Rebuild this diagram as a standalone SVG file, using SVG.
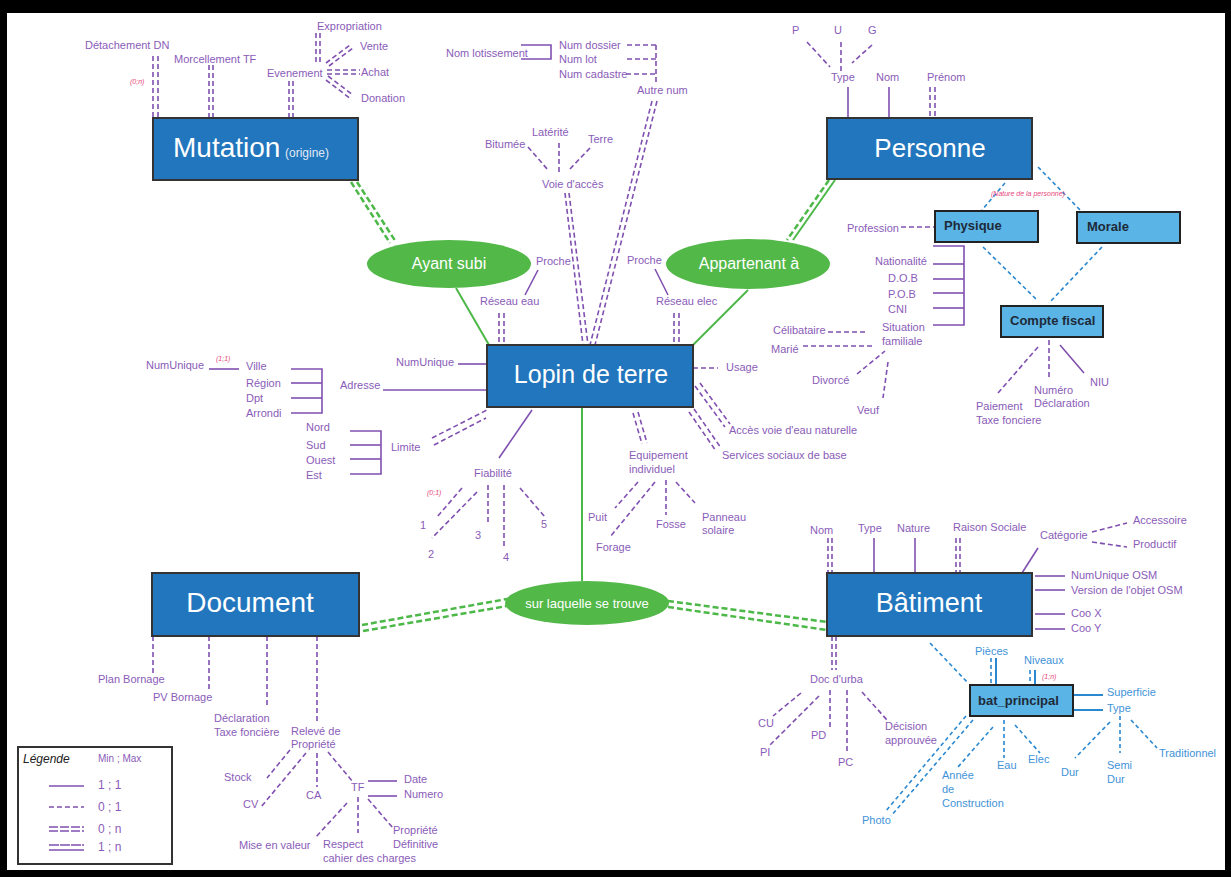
<svg xmlns="http://www.w3.org/2000/svg" width="1231" height="877" viewBox="0 0 1231 877">
<style>
text{font-family:"Liberation Sans",Arial,sans-serif}
.t{font-size:11px;fill:#8a5cb8}
.tb{font-size:11px;fill:#3f93d8}
.pk{font-size:7px;fill:#e8467c;font-style:italic}
.big{font-size:27px;fill:#fff;text-anchor:middle}
.ent{fill:#2176bd;stroke:#333;stroke-width:2}
.sub{fill:#5ab4e6;stroke:#222;stroke-width:2}
.subt{font-size:13px;font-weight:bold;fill:#1e2a38}
.ell{fill:#52b848}
.ellt{font-size:16px;fill:#fff;text-anchor:middle}
.s{stroke:#8050b0;stroke-width:1.6;fill:none}
.d{stroke:#8050b0;stroke-width:1.6;stroke-dasharray:5 3;fill:none}
.gs{stroke:#4cb848;stroke-width:2;fill:none}
.gd{stroke:#4cb848;stroke-width:2.5;stroke-dasharray:6 3;fill:none}
.bd{stroke:#2a88d0;stroke-width:1.6;stroke-dasharray:4 3;fill:none}
.bs{stroke:#2a88d0;stroke-width:2;fill:none}
</style>
<rect x="0" y="0" width="1231" height="877" fill="#000"/>
<rect x="7" y="13" width="1218" height="857" fill="#fff"/>

<g id="connectors">
<!-- green relations -->
<line class="gd" x1="351" y1="182" x2="390" y2="243"/>
<line class="gd" x1="357" y1="182" x2="396" y2="242"/>
<line class="gs" x1="456" y1="288" x2="489" y2="345"/>
<line class="gs" x1="835" y1="180" x2="793" y2="240"/>
<line class="gd" x1="829" y1="180" x2="787" y2="240"/>
<line class="gs" x1="748" y1="290" x2="693" y2="345"/>
<line class="gs" x1="582" y1="407" x2="582" y2="581"/>
<line class="gd" x1="362" y1="625" x2="507" y2="599"/>
<line class="gd" x1="363" y1="631" x2="507" y2="606"/>
<line class="gd" x1="668" y1="601" x2="827" y2="622"/>
<line class="gd" x1="668" y1="607" x2="827" y2="630"/>

<!-- Mutation attributes -->
<line class="d" x1="153" y1="56" x2="153" y2="117"/>
<line class="d" x1="158" y1="56" x2="158" y2="117"/>
<line class="d" x1="209" y1="65" x2="209" y2="117"/>
<line class="d" x1="213" y1="65" x2="213" y2="117"/>
<line class="d" x1="289" y1="81" x2="289" y2="117"/>
<line class="d" x1="293" y1="81" x2="293" y2="117"/>
<line class="d" x1="316" y1="33" x2="316" y2="65"/>
<line class="d" x1="320" y1="33" x2="320" y2="65"/>
<line class="d" x1="326" y1="63" x2="350" y2="45"/>
<line class="d" x1="329" y1="66" x2="353" y2="48"/>
<line class="d" x1="327" y1="70" x2="360" y2="70"/>
<line class="d" x1="327" y1="74" x2="360" y2="74"/>
<line class="d" x1="326" y1="80" x2="351" y2="99"/>
<line class="d" x1="328" y1="76" x2="353" y2="95"/>

<!-- top center -->
<polyline class="s" points="521,45 551,45 551,59 521,59"/>
<line class="d" x1="627" y1="45" x2="657" y2="45"/>
<line class="d" x1="627" y1="59" x2="657" y2="59"/>
<line class="d" x1="626" y1="74" x2="657" y2="74"/>
<line class="d" x1="656" y1="45" x2="656" y2="82"/>
<line class="d" x1="652" y1="101" x2="590" y2="345"/>
<line class="d" x1="657" y1="101" x2="595" y2="345"/>
<line class="d" x1="565" y1="193" x2="583" y2="345"/>
<line class="d" x1="569" y1="193" x2="588" y2="345"/>
<line class="d" x1="528" y1="147" x2="548" y2="170"/>
<line class="d" x1="559" y1="143" x2="559" y2="174"/>
<line class="d" x1="590" y1="148" x2="568" y2="171"/>

<!-- Proche / Reseau -->
<line class="s" x1="538" y1="270" x2="525" y2="295"/>
<line class="d" x1="499" y1="313" x2="499" y2="345"/>
<line class="d" x1="504" y1="313" x2="504" y2="345"/>
<line class="s" x1="655" y1="269" x2="668" y2="295"/>
<line class="d" x1="674" y1="313" x2="674" y2="345"/>
<line class="d" x1="679" y1="313" x2="679" y2="345"/>

<!-- Lopin right / bottom -->
<line class="d" x1="693" y1="368" x2="718" y2="368"/>
<line class="d" x1="695" y1="386" x2="725" y2="427"/>
<line class="d" x1="700" y1="383" x2="730" y2="424"/>
<line class="d" x1="689" y1="412" x2="716" y2="451"/>
<line class="d" x1="694" y1="409" x2="721" y2="448"/>
<line class="d" x1="633" y1="413" x2="642" y2="444"/>
<line class="d" x1="638" y1="412" x2="647" y2="443"/>
<line class="d" x1="638" y1="482" x2="615" y2="508"/>
<line class="d" x1="655" y1="482" x2="610" y2="537"/>
<line class="d" x1="666" y1="480" x2="666" y2="515"/>
<line class="d" x1="676" y1="482" x2="695" y2="503"/>

<!-- Fiabilite -->
<line class="s" x1="532" y1="410" x2="499" y2="458"/>
<line class="d" x1="462" y1="488" x2="437" y2="517"/>
<line class="d" x1="477" y1="492" x2="432" y2="538"/>
<line class="d" x1="488" y1="485" x2="488" y2="522"/>
<line class="d" x1="504" y1="485" x2="504" y2="548"/>
<line class="d" x1="520" y1="488" x2="545" y2="517"/>

<!-- Adresse / Limite -->
<line class="s" x1="209" y1="369" x2="239" y2="369"/>
<polyline class="s" points="291,369 322,369 322,413 291,413"/>
<line class="s" x1="291" y1="383" x2="322" y2="383"/>
<line class="s" x1="291" y1="398" x2="322" y2="398"/>
<line class="s" x1="383" y1="390" x2="487" y2="390"/>
<line class="s" x1="458" y1="364" x2="487" y2="364"/>
<polyline class="s" points="350,431 381,431 381,474 350,474"/>
<line class="s" x1="350" y1="445" x2="381" y2="445"/>
<line class="s" x1="350" y1="459" x2="381" y2="459"/>
<line class="d" x1="432" y1="438" x2="487" y2="410"/>
<line class="d" x1="434" y1="445" x2="486" y2="418"/>

<!-- Personne -->
<line class="d" x1="807" y1="42" x2="830" y2="67"/>
<line class="d" x1="841" y1="42" x2="841" y2="72"/>
<line class="d" x1="872" y1="45" x2="852" y2="63"/>
<line class="s" x1="848" y1="87" x2="848" y2="118"/>
<line class="s" x1="889" y1="87" x2="889" y2="118"/>
<line class="d" x1="930" y1="87" x2="930" y2="118"/>
<line class="d" x1="935" y1="87" x2="935" y2="118"/>
<line class="bd" x1="1005" y1="183" x2="982" y2="210"/>
<line class="bd" x1="1038" y1="167" x2="1082" y2="212"/>
<line class="d" x1="901" y1="227" x2="935" y2="227"/>
<polyline class="s" points="933,246 964,246 964,325 933,325"/>
<line class="s" x1="933" y1="264" x2="964" y2="264"/>
<line class="s" x1="933" y1="279" x2="964" y2="279"/>
<line class="s" x1="933" y1="293" x2="964" y2="293"/>
<line class="s" x1="933" y1="308" x2="964" y2="308"/>
<line class="d" x1="828" y1="332" x2="866" y2="332"/>
<line class="d" x1="803" y1="346" x2="875" y2="346"/>
<line class="d" x1="857" y1="374" x2="885" y2="351"/>
<line class="d" x1="888" y1="362" x2="883" y2="398"/>
<line class="bd" x1="983" y1="247" x2="1037" y2="300"/>
<line class="bd" x1="1102" y1="247" x2="1049" y2="303"/>
<line class="d" x1="1038" y1="347" x2="998" y2="393"/>
<line class="d" x1="1049" y1="340" x2="1049" y2="378"/>
<line class="s" x1="1060" y1="345" x2="1084" y2="373"/>

<!-- Document -->
<line class="d" x1="153" y1="636" x2="153" y2="673"/>
<line class="d" x1="209" y1="636" x2="209" y2="692"/>
<line class="d" x1="267" y1="636" x2="267" y2="708"/>
<line class="d" x1="317" y1="636" x2="317" y2="723"/>
<line class="d" x1="290" y1="750" x2="267" y2="778"/>
<line class="d" x1="306" y1="753" x2="261" y2="807"/>
<line class="d" x1="317" y1="753" x2="317" y2="787"/>
<line class="d" x1="328" y1="752" x2="353" y2="782"/>
<line class="s" x1="368" y1="781" x2="397" y2="781"/>
<line class="s" x1="368" y1="796" x2="397" y2="796"/>
<line class="d" x1="347" y1="803" x2="315" y2="838"/>
<line class="d" x1="358" y1="797" x2="358" y2="833"/>
<line class="d" x1="368" y1="799" x2="393" y2="828"/>

<!-- Batiment -->
<line class="d" x1="828" y1="538" x2="828" y2="573"/>
<line class="d" x1="832" y1="538" x2="832" y2="573"/>
<line class="s" x1="874" y1="538" x2="874" y2="573"/>
<line class="s" x1="915" y1="538" x2="915" y2="573"/>
<line class="d" x1="956" y1="538" x2="956" y2="573"/>
<line class="d" x1="960" y1="538" x2="960" y2="573"/>
<line class="s" x1="1038" y1="548" x2="1022" y2="573"/>
<line class="d" x1="1092" y1="532" x2="1127" y2="523"/>
<line class="d" x1="1092" y1="542" x2="1127" y2="547"/>
<line class="s" x1="1035" y1="576" x2="1065" y2="576"/>
<line class="s" x1="1035" y1="590" x2="1065" y2="590"/>
<line class="s" x1="1035" y1="614" x2="1065" y2="614"/>
<line class="s" x1="1035" y1="629" x2="1065" y2="629"/>
<line class="d" x1="832" y1="636" x2="832" y2="670"/>
<line class="d" x1="836" y1="636" x2="836" y2="670"/>
<line class="d" x1="801" y1="693" x2="773" y2="716"/>
<line class="d" x1="819" y1="696" x2="770" y2="745"/>
<line class="d" x1="830" y1="690" x2="830" y2="727"/>
<line class="d" x1="847" y1="690" x2="847" y2="752"/>
<line class="d" x1="862" y1="692" x2="887" y2="720"/>

<!-- bat_principal -->
<line class="bd" x1="930" y1="643" x2="968" y2="683"/>
<line class="bd" x1="991" y1="658" x2="991" y2="685"/>
<line class="bs" x1="996" y1="658" x2="996" y2="685"/>
<line class="bd" x1="1030" y1="670" x2="1030" y2="685"/>
<line class="bs" x1="1035" y1="670" x2="1035" y2="685"/>
<line class="bs" x1="1073" y1="695" x2="1103" y2="695"/>
<line class="bs" x1="1073" y1="710" x2="1103" y2="710"/>
<line class="bd" x1="1110" y1="722" x2="1075" y2="758"/>
<line class="bd" x1="1120" y1="716" x2="1120" y2="753"/>
<line class="bd" x1="1131" y1="720" x2="1157" y2="748"/>
<line class="bd" x1="1004" y1="720" x2="1004" y2="758"/>
<line class="bd" x1="1015" y1="725" x2="1040" y2="753"/>
<line class="bd" x1="993" y1="727" x2="958" y2="767"/>
<line class="bd" x1="966" y1="716" x2="885" y2="812"/>
<line class="bd" x1="973" y1="720" x2="891" y2="816"/>
</g>

<g id="mutation">
<rect class="ent" x="153" y="118" width="205" height="62"/>
<text x="173" y="157" style="font-size:28px;fill:#fff">Mutation</text>
<text x="285" y="157" style="font-size:12px;fill:#e0e8f4">(origine)</text>
</g>
<g id="mutation-attrs">
<text class="t" x="85" y="49">Détachement DN</text>
<text class="pk" x="130" y="84">(0;n)</text>
<text class="t" x="174" y="63">Morcellement TF</text>
<text class="t" x="267" y="77">Evenement</text>
<text class="t" x="317" y="30">Expropriation</text>
<text class="t" x="360" y="50">Vente</text>
<text class="t" x="361" y="76">Achat</text>
<text class="t" x="361" y="102">Donation</text>
</g>

<g id="personne">
<rect class="ent" x="827" y="118" width="205" height="61"/>
<text class="big" x="930" y="157" style="font-size:26px">Personne</text>
</g>
<g id="personne-attrs">
<text class="t" x="792" y="34">P</text>
<text class="t" x="834" y="34">U</text>
<text class="t" x="868" y="34">G</text>
<text class="t" x="831" y="81">Type</text>
<text class="t" x="876" y="81">Nom</text>
<text class="t" x="927" y="81">Prénom</text>
<text class="pk" x="991" y="196">(Nature de la personne)</text>
<text class="t" x="847" y="232">Profession</text>
<text class="t" x="875" y="265">Nationalité</text>
<text class="t" x="888" y="282">D.O.B</text>
<text class="t" x="888" y="298">P.O.B</text>
<text class="t" x="888" y="313">CNI</text>
<text class="t" x="882" y="331">Situation</text>
<text class="t" x="882" y="345">familiale</text>
<text class="t" x="773" y="334">Célibataire</text>
<text class="t" x="771" y="353">Marié</text>
<text class="t" x="812" y="384">Divorcé</text>
<text class="t" x="857" y="414">Veuf</text>
<text class="t" x="976" y="410">Paiement</text>
<text class="t" x="976" y="424">Taxe fonciere</text>
<text class="t" x="1034" y="394">Numéro</text>
<text class="t" x="1034" y="407">Déclaration</text>
<text class="t" x="1090" y="386">NIU</text>
</g>
<g id="physique">
<rect class="sub" x="935" y="211" width="103" height="31"/>
<text class="subt" x="944" y="230">Physique</text>
</g>
<g id="morale">
<rect class="sub" x="1077" y="212" width="103" height="31"/>
<text class="subt" x="1087" y="231">Morale</text>
</g>
<g id="compte-fiscal">
<rect class="sub" x="1001" y="306" width="102" height="31"/>
<text class="subt" x="1010" y="325">Compte fiscal</text>
</g>

<g id="lopin">
<rect class="ent" x="487" y="345" width="206" height="62"/>
<text class="big" x="591" y="383" style="font-size:25px">Lopin de terre</text>
</g>
<g id="lopin-attrs">
<text class="t" x="446" y="57">Nom lotissement</text>
<text class="t" x="559" y="49">Num dossier</text>
<text class="t" x="559" y="63">Num lot</text>
<text class="t" x="559" y="78">Num cadastre</text>
<text class="t" x="637" y="94">Autre num</text>
<text class="t" x="485" y="148">Bitumée</text>
<text class="t" x="532" y="136">Latérité</text>
<text class="t" x="588" y="143">Terre</text>
<text class="t" x="542" y="188">Voie d'accès</text>
<text class="t" x="536" y="265">Proche</text>
<text class="t" x="480" y="305">Réseau eau</text>
<text class="t" x="627" y="264">Proche</text>
<text class="t" x="656" y="305">Réseau elec</text>
<text class="t" x="726" y="371">Usage</text>
<text class="t" x="729" y="434">Accès voie d'eau naturelle</text>
<text class="t" x="722" y="459">Services sociaux de base</text>
<text class="t" x="629" y="459">Equipement</text>
<text class="t" x="629" y="473">individuel</text>
<text class="t" x="588" y="521">Puit</text>
<text class="t" x="596" y="551">Forage</text>
<text class="t" x="656" y="528">Fosse</text>
<text class="t" x="702" y="521">Panneau</text>
<text class="t" x="702" y="534">solaire</text>
<text class="t" x="474" y="477">Fiabilité</text>
<text class="pk" x="427" y="495">(0;1)</text>
<text class="t" x="420" y="529">1</text>
<text class="t" x="428" y="558">2</text>
<text class="t" x="475" y="539">3</text>
<text class="t" x="503" y="561">4</text>
<text class="t" x="541" y="528">5</text>
<text class="t" x="146" y="369">NumUnique</text>
<text class="pk" x="216" y="361">(1;1)</text>
<text class="t" x="246" y="370">Ville</text>
<text class="t" x="246" y="387">Région</text>
<text class="t" x="246" y="402">Dpt</text>
<text class="t" x="246" y="417">Arrondi</text>
<text class="t" x="340" y="389">Adresse</text>
<text class="t" x="396" y="366">NumUnique</text>
<text class="t" x="306" y="431">Nord</text>
<text class="t" x="306" y="449">Sud</text>
<text class="t" x="306" y="464">Ouest</text>
<text class="t" x="306" y="479">Est</text>
<text class="t" x="391" y="451">Limite</text>
</g>

<g id="ayant-subi">
<ellipse class="ell" cx="449" cy="264" rx="82" ry="24"/>
<text class="ellt" x="449" y="269">Ayant subi</text>
</g>
<g id="appartenant">
<ellipse class="ell" cx="748" cy="264" rx="82" ry="25"/>
<text class="ellt" x="749" y="269">Appartenant à</text>
</g>
<g id="sur-laquelle">
<ellipse class="ell" cx="587" cy="603" rx="82" ry="22"/>
<text class="ellt" x="587" y="608" style="font-size:13px">sur laquelle se trouve</text>
</g>

<g id="document">
<rect class="ent" x="152" y="573" width="207" height="63"/>
<text class="big" x="250" y="612" style="font-size:28px">Document</text>
</g>
<g id="document-attrs">
<text class="t" x="98" y="683">Plan Bornage</text>
<text class="t" x="153" y="701">PV Bornage</text>
<text class="t" x="214" y="722">Déclaration</text>
<text class="t" x="214" y="736">Taxe foncière</text>
<text class="t" x="291" y="735">Relevé de</text>
<text class="t" x="291" y="748">Propriété</text>
<text class="t" x="224" y="781">Stock</text>
<text class="t" x="243" y="808">CV</text>
<text class="t" x="306" y="799">CA</text>
<text class="t" x="351" y="791">TF</text>
<text class="t" x="404" y="783">Date</text>
<text class="t" x="404" y="798">Numero</text>
<text class="t" x="239" y="849">Mise en valeur</text>
<text class="t" x="323" y="848">Respect</text>
<text class="t" x="323" y="862">cahier des charges</text>
<text class="t" x="393" y="834">Propriété</text>
<text class="t" x="393" y="848">Définitive</text>
</g>

<g id="batiment">
<rect class="ent" x="827" y="573" width="205" height="63"/>
<text class="big" x="929" y="612">Bâtiment</text>
</g>
<g id="batiment-attrs">
<text class="t" x="810" y="534">Nom</text>
<text class="t" x="858" y="532">Type</text>
<text class="t" x="897" y="532">Nature</text>
<text class="t" x="953" y="531">Raison Sociale</text>
<text class="t" x="1040" y="539">Catégorie</text>
<text class="t" x="1133" y="524">Accessoire</text>
<text class="t" x="1133" y="548">Productif</text>
<text class="t" x="1071" y="579">NumUnique OSM</text>
<text class="t" x="1071" y="594">Version de l'objet OSM</text>
<text class="t" x="1071" y="617">Coo X</text>
<text class="t" x="1071" y="632">Coo Y</text>
<text class="t" x="810" y="683">Doc d'urba</text>
<text class="t" x="758" y="727">CU</text>
<text class="t" x="760" y="756">PI</text>
<text class="t" x="811" y="739">PD</text>
<text class="t" x="838" y="766">PC</text>
<text class="t" x="885" y="730">Décision</text>
<text class="t" x="885" y="744">approuvée</text>
</g>
<g id="bat-principal">
<rect class="sub" x="970" y="685" width="103" height="31"/>
<text class="subt" x="978" y="705">bat_principal</text>
</g>
<g id="bat-principal-attrs">
<text class="tb" x="975" y="655">Pièces</text>
<text class="tb" x="1024" y="664">Niveaux</text>
<text class="pk" x="1042" y="679">(1;n)</text>
<text class="tb" x="1107" y="696">Superficie</text>
<text class="tb" x="1107" y="712">Type</text>
<text class="tb" x="1061" y="776">Dur</text>
<text class="tb" x="1107" y="769">Semi</text>
<text class="tb" x="1107" y="783">Dur</text>
<text class="tb" x="1159" y="757">Traditionnel</text>
<text class="tb" x="997" y="769">Eau</text>
<text class="tb" x="1028" y="763">Elec</text>
<text class="tb" x="942" y="779">Année</text>
<text class="tb" x="942" y="793">de</text>
<text class="tb" x="942" y="807">Construction</text>
<text class="tb" x="862" y="824">Photo</text>
</g>

<g id="legende">
<rect x="18" y="747" width="154" height="117" fill="#fff" stroke="#333" stroke-width="2"/>
<text x="23" y="763" style="font-size:12px;font-style:italic;fill:#222">Légende</text>
<text class="t" x="98" y="762" style="font-size:10px">Min ; Max</text>
<line class="s" x1="49" y1="786" x2="84" y2="786"/>
<text class="t" x="98" y="789" style="font-size:12px">1 ; 1</text>
<line class="d" x1="49" y1="807" x2="84" y2="807"/>
<text class="t" x="98" y="811" style="font-size:12px">0 ; 1</text>
<line class="d" x1="49" y1="827" x2="84" y2="827" style="stroke-dasharray:9 2"/>
<line class="d" x1="49" y1="831" x2="84" y2="831" style="stroke-dasharray:9 2"/>
<text class="t" x="98" y="833" style="font-size:12px">0 ; n</text>
<line class="d" x1="49" y1="845" x2="84" y2="845" style="stroke-dasharray:10 1"/>
<line class="s" x1="49" y1="850" x2="84" y2="850"/>
<text class="t" x="98" y="851" style="font-size:12px">1 ; n</text>
</g>
</svg>
